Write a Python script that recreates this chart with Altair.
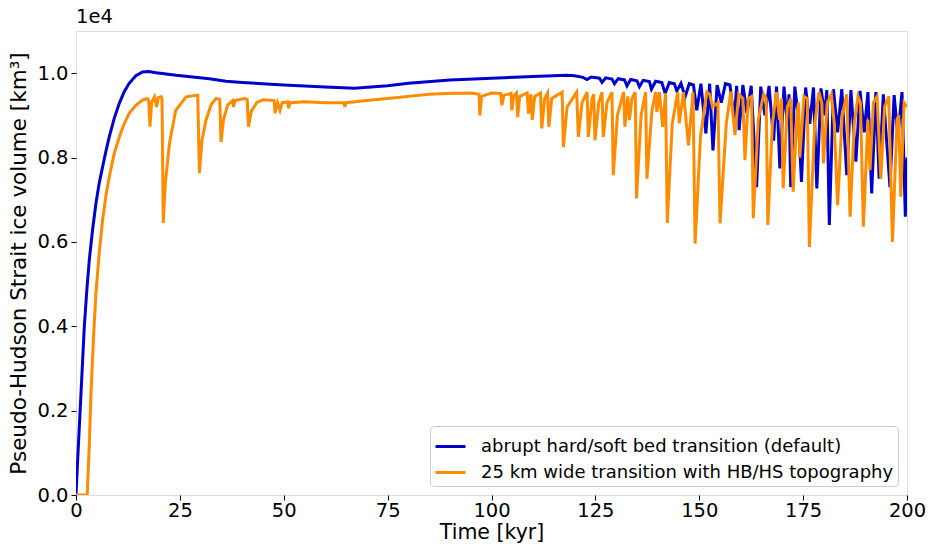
import altair as alt
import pandas as pd

LABEL_BLUE = "abrupt hard/soft bed transition (default)"
LABEL_ORANGE = "25 km wide transition with HB/HS topography"

# Time [kyr] and volume [1e4 km^3]
blue_t = [0, 0.4, 1.2, 2.0, 2.6, 3.2, 4.0, 4.8, 5.6, 6.4, 7.2, 8.0, 9.2, 10.4, 11.6, 12.8, 14.4, 16.0, 17.5, 19.3, 24.1, 32.1, 36.1,
          40, 50, 60, 67, 75, 80, 90, 100, 110, 118, 120,
          122.0, 123.0, 124.0, 126.0, 126.6, 127.5, 129.0, 129.6, 130.5, 132.0, 132.6, 133.5,
          135.0, 135.6, 136.5, 138.0, 138.5, 139.5, 141.0, 141.8, 142.8, 144.0, 144.6, 145.6,
          146.6, 147.6, 148.6, 149.4, 150.4, 151.6, 152.5, 153.3, 154.3, 155.3, 156.3, 157.4,
          158.4, 159.0, 159.6, 160.5, 161.5, 162.5, 163.8, 164.8, 165.8, 166.8, 167.9, 168.6,
          169.4, 170.4, 171.2, 171.6, 172.0, 173.0, 173.8, 174.6, 175.6, 176.6, 177.5, 178.3,
          179.3, 180.2, 180.7, 181.3, 182.3, 183.3, 184.3, 185.5, 186.5, 187.7, 188.7, 189.7,
          190.6, 191.5, 192.5, 193.3, 194.3, 195.9, 196.9, 197.8, 198.8, 199.6, 200.0]
blue_v = [0, 0.083, 0.241, 0.399, 0.485, 0.557, 0.630, 0.691, 0.740, 0.778, 0.815, 0.849, 0.893, 0.928, 0.956, 0.976, 0.994, 1.003, 1.004, 1.001, 0.995, 0.987, 0.981,
          0.978, 0.972, 0.967, 0.964, 0.970, 0.976, 0.984, 0.988, 0.992, 0.995, 0.994,
          0.990, 0.985, 0.991, 0.988, 0.978, 0.989, 0.986, 0.975, 0.987, 0.984, 0.970, 0.985,
          0.982, 0.968, 0.983, 0.980, 0.962, 0.981, 0.978, 0.952, 0.978, 0.975, 0.958, 0.976,
          0.944, 0.975, 0.972, 0.912, 0.975, 0.857, 0.975, 0.817, 0.972, 0.930, 0.975, 0.972,
          0.889, 0.970, 0.865, 0.972, 0.905, 0.970, 0.730, 0.968, 0.900, 0.970, 0.840, 0.968,
          0.774, 0.968, 0.880, 0.950, 0.730, 0.968, 0.900, 0.742, 0.966, 0.880, 0.966, 0.727,
          0.964, 0.900, 0.960, 0.640, 0.962, 0.860, 0.962, 0.758, 0.960, 0.790, 0.958, 0.860,
          0.955, 0.715, 0.955, 0.750, 0.950, 0.730, 0.948, 0.850, 0.955, 0.660, 0.800]

orange_t = [0, 2.7, 3.2, 3.6, 4.2, 4.8, 5.6, 6.4, 7.2, 8.0, 9.2, 10.4, 11.6, 12.8, 14.4, 16.0,
            17.2, 17.5, 17.8, 18.2, 18.9, 19.4, 19.8, 20.5, 20.7, 21.0, 21.5, 22.5, 24.0, 26.5,
            29.3, 29.7, 30.3, 31.3, 32.5, 33.7, 34.6, 34.9, 35.5, 36.5, 37.7, 37.9, 38.3, 40.5,
            41.2, 41.5, 42.2, 43.5, 45, 47.7, 47.9, 48.5, 49.1, 49.6, 51.0, 51.1, 51.6, 55, 60,
            64.5, 64.7, 65, 70, 75, 80, 85, 89, 95, 97.0, 97.2, 97.6, 100, 102.2, 102.5, 103,
            104.7, 104.9, 105.3, 106.0, 106.3, 106.8, 108.6, 108.9, 109.3, 109.5, 109.8, 110.4,
            111.8, 112.1, 112.8, 113.5, 113.8, 114.5, 117.0, 117.3, 118.2, 120.5, 120.9, 121.8,
            123.0, 123.3, 124.2, 124.6, 124.9, 125.8, 126.6, 126.9, 127.8, 129.0, 129.3, 130.3,
            131.8, 132.1, 132.8, 133.2, 133.8, 134.6, 134.9, 136.0, 137.1, 137.4, 138.6, 139.5,
            139.8, 140.4, 141.2, 141.9, 142.3, 143.5, 144.8, 145.2, 146.2, 147.4, 148.5, 149.0,
            150.3, 151.8, 152.5, 153.2, 154.5, 155.0, 156.5, 157.6, 158.6, 159.5, 160.5, 161.0,
            161.8, 162.6, 163.0, 164.2, 165.5, 166.1, 166.5, 167.6, 168.6, 169.3, 169.8, 170.2,
            171.2, 172.0, 172.6, 173.5, 173.9, 174.2, 175.2, 176.0, 176.5, 177.8, 178.8, 179.5,
            179.9, 180.8, 181.8, 182.5, 183.3, 184.4, 185.5, 186.3, 187.3, 188.2, 188.8, 189.5,
            190.6, 191.1, 191.9, 192.8, 193.7, 194.6, 195.6, 196.5, 197.6, 198.0, 198.5, 199.3,
            200.0]
orange_v = [0, 0, 0.12, 0.24, 0.37, 0.479, 0.575, 0.652, 0.71, 0.754, 0.81, 0.848, 0.88, 0.905, 0.924, 0.936,
            0.940, 0.935, 0.873, 0.930, 0.944, 0.920, 0.942, 0.944, 0.940, 0.645, 0.74, 0.834, 0.912, 0.944,
            0.948, 0.763, 0.84, 0.889, 0.925, 0.940, 0.938, 0.837, 0.89, 0.925, 0.935, 0.92, 0.935, 0.94,
            0.938, 0.873, 0.91, 0.93, 0.937, 0.935, 0.905, 0.93, 0.912, 0.930, 0.932, 0.917, 0.930, 0.932, 0.930,
            0.930, 0.920, 0.930, 0.935, 0.940, 0.945, 0.950, 0.952, 0.953, 0.950, 0.900, 0.945, 0.953, 0.952, 0.924, 0.948,
            0.952, 0.912, 0.945, 0.953, 0.896, 0.945, 0.953, 0.904, 0.94, 0.95, 0.889, 0.945,
            0.953, 0.869, 0.94, 0.953, 0.873, 0.94, 0.955, 0.825, 0.92, 0.955, 0.849, 0.93,
            0.955, 0.849, 0.94, 0.95, 0.841, 0.93, 0.955, 0.849, 0.93, 0.955, 0.758, 0.90,
            0.955, 0.873, 0.945, 0.889, 0.94, 0.955, 0.703, 0.90, 0.955, 0.750, 0.91, 0.955,
            0.908, 0.955, 0.873, 0.953, 0.645, 0.88, 0.955, 0.881, 0.955, 0.829, 0.955, 0.596,
            0.85, 0.955, 0.950, 0.92, 0.93, 0.644, 0.88, 0.956, 0.853, 0.95, 0.94, 0.794,
            0.94, 0.945, 0.656, 0.89, 0.95, 0.94, 0.640, 0.88, 0.955, 0.89, 0.94, 0.727,
            0.92, 0.94, 0.719, 0.90, 0.93, 0.80, 0.945, 0.94, 0.588, 0.88, 0.955, 0.93,
            0.786, 0.93, 0.95, 0.88, 0.687, 0.90, 0.95, 0.660, 0.88, 0.945, 0.93, 0.636,
            0.89, 0.77, 0.93, 0.945, 0.750, 0.92, 0.945, 0.600, 0.89, 0.90, 0.707, 0.93,
            0.92]

x_ticks = [0, 25, 50, 75, 100, 125, 150, 175, 200]
y_ticks = [0.0, 0.2, 0.4, 0.6, 0.8, 1.0]

blue_df = pd.DataFrame({"t": blue_t, "v": blue_v, "series": LABEL_BLUE})
orange_df = pd.DataFrame({"t": orange_t, "v": orange_v, "series": LABEL_ORANGE})

FONT = "DejaVu Sans"

color = alt.Color(
    "series:N",
    scale=alt.Scale(domain=[LABEL_BLUE, LABEL_ORANGE], range=["#0000CD", "#FF8C00"]),
    legend=alt.Legend(
        title=None, orient="bottom-right", offset=9,
        fillColor="white", strokeColor="#cccccc", cornerRadius=4, padding=4,
        labelFontSize=18, labelFont=FONT, labelColor="black", labelOffset=14,
        symbolType="stroke", symbolStrokeWidth=3, symbolSize=900, rowPadding=-5,
        labelLimit=600,
    ),
)

x = alt.X("t:Q", scale=alt.Scale(domain=[0, 200], nice=False, zero=False),
          axis=alt.Axis(title="Time [kyr]", values=x_ticks, format="d", grid=False,
                        labelFontSize=19.5, titleFontSize=20.5, labelFont=FONT, titleFont=FONT,
                        labelColor="black", titleColor="black", titleFontWeight="normal",
                        tickColor="black", tickSize=5, domain=False, labelPadding=1,
                        titlePadding=3, labelFlush=False))
y = alt.Y("v:Q", scale=alt.Scale(domain=[0, 1.1], nice=False),
          axis=alt.Axis(title="Pseudo-Hudson Strait ice volume [km³]", values=y_ticks, format=".1f",
                        grid=False, labelFontSize=19.5, titleFontSize=21.5, labelFont=FONT, titleFont=FONT,
                        labelColor="black", titleColor="black", titleFontWeight="normal",
                        tickColor="black", tickSize=5, domain=False, labelPadding=3,
                        titlePadding=6))

blue = alt.Chart(blue_df).mark_line(strokeWidth=3, clip=True).encode(x=x, y=y, color=color, order="t:Q")
orange = alt.Chart(orange_df).mark_line(strokeWidth=3, clip=True).encode(x=x, y=y, color=color, order="t:Q")

exp_label = alt.Chart(pd.DataFrame({"txt": ["1e4"]})).mark_text(
    align="left", baseline="bottom", font=FONT, fontSize=19.5, color="black"
).encode(text="txt:N", x=alt.value(0), y=alt.value(-4))

chart = alt.layer(blue, orange, exp_label).properties(
    width=831, height=464,
    autosize=alt.AutoSizeParams(type="none"),
    padding={"left": 76, "top": 31, "right": 21, "bottom": 49},
).configure_view(stroke="#444444", strokeWidth=1).configure(background="white")

chart.save("out.html", embed_options={"renderer": "svg", "actions": False})
